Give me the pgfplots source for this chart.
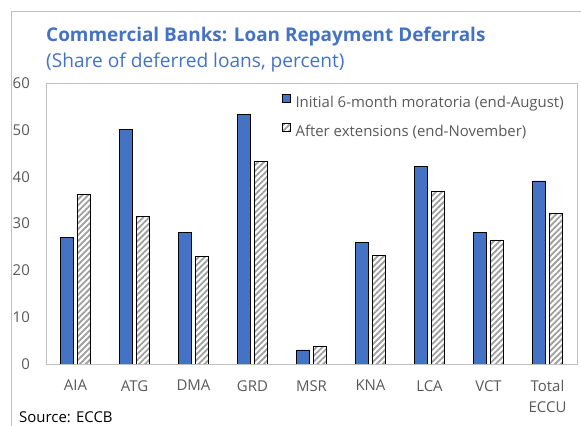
\documentclass[border=0pt]{standalone}
\usepackage{fontspec}
\setmainfont{Open Sans}
\usepackage{pgfplots}
\pgfplotsset{compat=1.18}
\usetikzlibrary{patterns.meta}
\definecolor{ttlblue}{HTML}{4472C4}
\definecolor{barblue}{HTML}{4472C4}
\definecolor{txtgray}{HTML}{595959}
\definecolor{lngray}{HTML}{BFBFBF}
\begin{document}
\begin{tikzpicture}
\path[use as bounding box] (0,0) rectangle (581bp,426bp);
\draw[lngray, line width=0.8bp] (11bp,0bp) -- (11bp,415bp) -- (581bp,415bp);
\node[anchor=base west, inner sep=0pt, text=ttlblue, font=\fontsize{19}{22}\selectfont\bfseries] at (46bp,384bp) {Commercial Banks: Loan Repayment Deferrals};
\node[anchor=base west, inner sep=0pt, text=ttlblue, font=\fontsize{19.2}{22}\selectfont] at (46bp,358bp) {(Share of deferred loans, percent)};
\node[anchor=base west, inner sep=0pt, text=black, font=\fontsize{15}{18}\selectfont] at (19bp,3.5bp) {Source: ECCB};
\begin{axis}[
  at={(46bp,62bp)}, anchor=south west,
  scale only axis, width=531bp, height=281bp,
  xmin=-0.5, xmax=8.5, ymin=0, ymax=60,
  ytick={0,10,20,30,40,50,60},
  xtick={0,1,2,3,4,5,6,7,8},
  xticklabels={AIA,ATG,DMA,GRD,MSR,KNA,LCA,VCT,{Total\\ECCU}},
  major tick length=0pt,
  axis line style={lngray, line width=0.8bp},
  /pgf/number format/assume math mode=true,
  yticklabel style={anchor=east, inner sep=0pt, text=txtgray, font=\fontsize{15}{18}\selectfont},
  yticklabel shift=16bp,
  xticklabel style={anchor=north, inner sep=0pt, align=center, text=txtgray, font=\fontsize{15}{21}\selectfont},
  xticklabel shift=16bp,
  ybar, bar width=13.5bp,
  legend style={at={(0.444,0.962)}, anchor=north west, draw=none, fill=none, inner sep=0pt,
    font=\fontsize{15}{18}\selectfont, text=txtgray, row sep=12bp,
    nodes={inner sep=1bp, text height=10bp, text depth=3bp},
    cells={anchor=west}},
  legend cell align=left,
  legend image code/.code={\draw[#1, line width=0.6bp] (0bp,1.5bp) rectangle (8bp,9.5bp);},
  /tikz/every odd column/.style={column sep=4bp},
]
\addplot[fill=barblue, draw=black, line width=0.75bp, bar shift=-8.5bp] coordinates {
 (0,27.0) (1,50.0) (2,28.0) (3,53.2) (4,3.0) (5,26.0) (6,42.1) (7,28.0) (8,39.1)};
\addplot[pattern={Lines[angle=45, distance=4.2bp, line width=1.8bp]}, pattern color=black!38, draw=black, line width=0.75bp, bar shift=8.5bp] coordinates {
 (0,36.2) (1,31.5) (2,22.9) (3,43.3) (4,3.7) (5,23.2) (6,36.9) (7,26.5) (8,32.2)};
\legend{Initial 6-month moratoria (end-August), After extensions (end-November)}
\end{axis}
\end{tikzpicture}
\end{document}
